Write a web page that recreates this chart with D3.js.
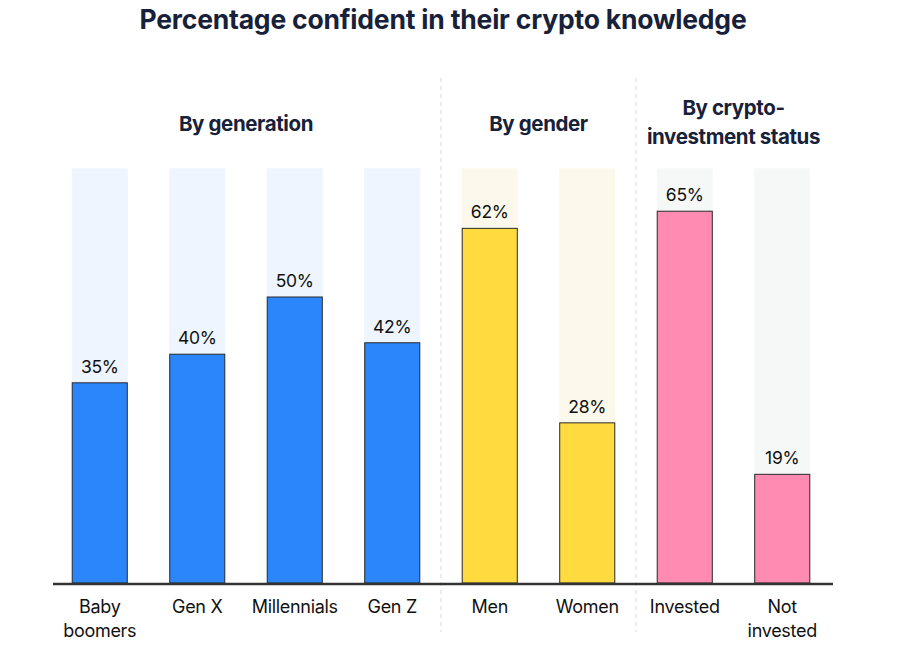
<!DOCTYPE html>
<html>
<head>
<meta charset="utf-8">
<script src="https://cdn.jsdelivr.net/npm/d3@7"></script>
<style>
  html, body { margin: 0; padding: 0; background: #ffffff; }
  svg { display: block; font-family: Inter, "Noto Sans", sans-serif; }
</style>
</head>
<body>
<div id="chart"></div>
<script>
// ---- Data ----
const title = "Percentage confident in their crypto knowledge";
const categories = ["Baby boomers", "Gen X", "Millennials", "Gen Z", "Men", "Women", "Invested", "Not invested"];
const categoryLines = [["Baby", "boomers"], ["Gen X"], ["Millennials"], ["Gen Z"], ["Men"], ["Women"], ["Invested"], ["Not", "invested"]];
const values = [35, 40, 50, 42, 62, 28, 65, 19];
const groupOf = ["generation", "generation", "generation", "generation", "gender", "gender", "investment", "investment"];
const groups = ["generation", "gender", "investment"];
const groupLabels = [["By generation"], ["By gender"], ["By crypto-", "investment status"]];
const groupColors = ["#2b86fc", "#ffdb3f", "#ff8ab2"];
const groupBgColors = ["#eef5fe", "#fcf9ec", "#f6f8f8"];
const backgroundValue = 72.5;

// ---- Layout ----
const W = 910, H = 671;
const baseline = 583;
const svg = d3.select("#chart").append("svg").attr("width", W).attr("height", H);

const x = d3.scaleBand().domain(categories).range([51, 831]).paddingInner(0.425).paddingOuter(0.2125);
const y = d3.scaleLinear().domain([0, 100]).range([baseline, baseline - 572]);
const colorScale = d3.scaleOrdinal().domain(groups).range(groupColors);
const bgScale = d3.scaleOrdinal().domain(groups).range(groupBgColors);

const data = categories.map((c, i) => ({ cat: c, lines: categoryLines[i], value: values[i], group: groupOf[i] }));

// Title
svg.append("text")
  .attr("x", 443).attr("y", 29)
  .attr("text-anchor", "middle")
  .attr("font-size", 26.5).attr("font-weight", 700)
  .attr("letter-spacing", -0.2)
  .attr("fill", "#17213a")
  .text(title);

// Background bars
svg.append("g").selectAll("rect").data(data).join("rect")
  .attr("x", d => x(d.cat))
  .attr("width", x.bandwidth())
  .attr("y", y(backgroundValue))
  .attr("height", y(0) - y(backgroundValue))
  .attr("fill", d => bgScale(d.group));

// Dividers between groups
const dividerXs = groups.slice(1).map(g => {
  const first = data.find(d => d.group === g);
  const idx = categories.indexOf(first.cat);
  return (x(categories[idx - 1]) + x.bandwidth() + x(first.cat)) / 2;
});
svg.append("g").selectAll("line").data(dividerXs).join("line")
  .attr("x1", d => d).attr("x2", d => d)
  .attr("y1", 78).attr("y2", 632)
  .attr("stroke", "#d9d9d9").attr("stroke-width", 1)
  .attr("stroke-dasharray", "4,4");

// Group labels
groups.forEach((g, gi) => {
  const cats = data.filter(d => d.group === g);
  const cx = (x(cats[0].cat) + x(cats[cats.length - 1].cat) + x.bandwidth()) / 2;
  const lines = groupLabels[gi];
  const t = svg.append("text")
    .attr("text-anchor", "middle")
    .attr("font-size", 20.5).attr("font-weight", 700)
    .attr("letter-spacing", -0.4)
    .attr("fill", "#17213a");
  const startY = lines.length === 1 ? 131 : 115;
  lines.forEach((ln, li) => {
    t.append("tspan").attr("x", cx).attr("y", startY + li * 29).text(ln);
  });
});

// Bars
svg.append("g").selectAll("rect").data(data).join("rect")
  .attr("x", d => x(d.cat) + 0.5)
  .attr("width", x.bandwidth() - 1)
  .attr("y", d => y(d.value))
  .attr("height", d => y(0) - y(d.value))
  .attr("fill", d => colorScale(d.group))
  .attr("stroke", "#2a2a2a").attr("stroke-width", 1);

// Value labels
svg.append("g").selectAll("text").data(data).join("text")
  .attr("x", d => x(d.cat) + x.bandwidth() / 2)
  .attr("y", d => y(d.value) - 10)
  .attr("text-anchor", "middle")
  .attr("font-size", 17.5)
  .attr("letter-spacing", -0.3)
  .attr("fill", "#111111")
  .text(d => d.value + "%");

// Baseline axis
const xr = x.range();
svg.append("line")
  .attr("x1", xr[0] + 2).attr("x2", xr[1] + 2)
  .attr("y1", baseline + 1).attr("y2", baseline + 1)
  .attr("stroke", "#333333").attr("stroke-width", 2.5);

// Category labels
const catText = svg.append("g").selectAll("text").data(data).join("text")
  .attr("text-anchor", "middle")
  .attr("font-size", 18)
  .attr("letter-spacing", -0.3)
  .attr("fill", "#111111");
catText.each(function(d) {
  const t = d3.select(this);
  d.lines.forEach((ln, li) => {
    t.append("tspan")
      .attr("x", x(d.cat) + x.bandwidth() / 2)
      .attr("y", 613 + li * 24)
      .text(ln);
  });
});
</script>
</body>
</html>
